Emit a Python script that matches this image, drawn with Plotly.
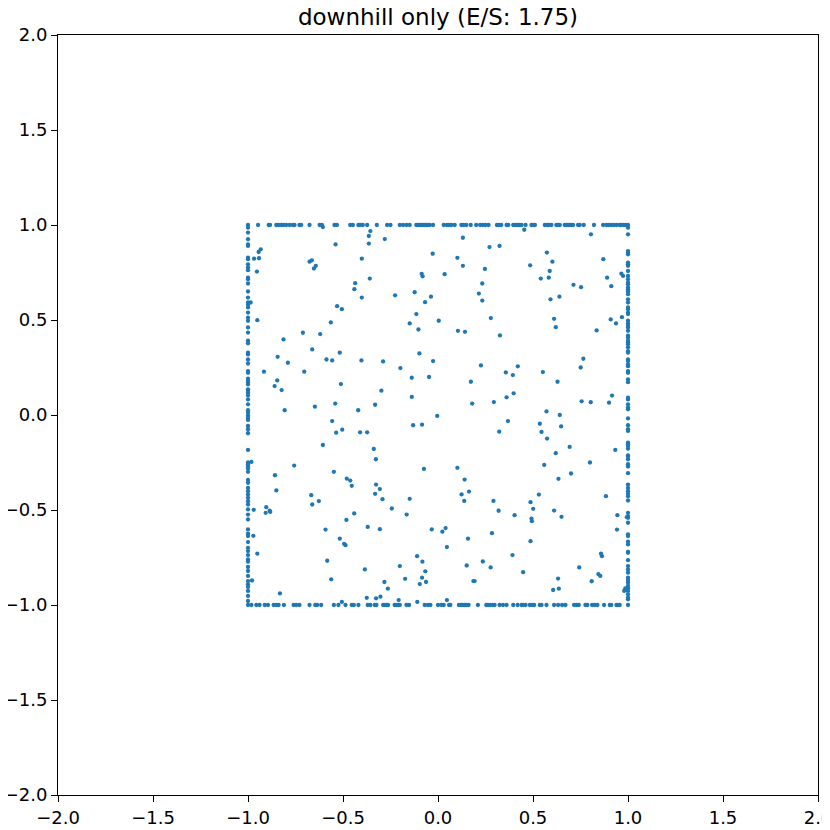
import plotly.graph_objects as go

# Points lying on the top edge (y = 1)
top_x = [-1.0, -0.947, -0.891, -0.884, -0.851, -0.839, -0.825, -0.813, -0.799, -0.781, -0.764, -0.755,
         -0.729, -0.720, -0.676, -0.623, -0.611, -0.545, -0.532, -0.462, -0.448, -0.419, -0.410, -0.396,
         -0.373, -0.322, -0.268, -0.250, -0.201, -0.184, -0.166, -0.149, -0.114, -0.105, -0.096, -0.088,
         -0.079, -0.070, -0.061, -0.053, -0.044, -0.026, 0.030, 0.047, 0.058, 0.070, 0.088, 0.123, 0.135,
         0.149, 0.172, 0.201, 0.222, 0.236, 0.250, 0.266, 0.310, 0.320, 0.333, 0.361, 0.370, 0.396, 0.405,
         0.414, 0.422, 0.431, 0.440, 0.461, 0.492, 0.501, 0.510, 0.562, 0.574, 0.583, 0.597, 0.623, 0.632,
         0.641, 0.667, 0.676, 0.685, 0.694, 0.702, 0.711, 0.737, 0.746, 0.767, 0.821, 0.869, 0.886, 0.898,
         0.912, 0.925, 0.939, 0.956, 0.965, 0.977, 0.986, 1.0]

# Points lying on the bottom edge (y = -1)
bottom_x = [-1.0, -0.982, -0.956, -0.939, -0.912, -0.895, -0.865, -0.851, -0.839, -0.811, -0.760, -0.746,
            -0.729, -0.676, -0.646, -0.636, -0.615, -0.548, -0.524, -0.487, -0.454, -0.443, -0.419, -0.370,
            -0.356, -0.333, -0.324, -0.289, -0.280, -0.271, -0.263, -0.228, -0.219, -0.210, -0.201, -0.166,
            -0.152, -0.070, -0.053, -0.040, 0.0, 0.018, 0.030, 0.058, 0.065, 0.110, 0.123, 0.131, 0.140,
            0.149, 0.161, 0.210, 0.254, 0.263, 0.275, 0.289, 0.298, 0.324, 0.342, 0.361, 0.396, 0.419,
            0.440, 0.448, 0.461, 0.483, 0.496, 0.506, 0.536, 0.545, 0.571, 0.611, 0.632, 0.653, 0.671,
            0.716, 0.729, 0.741, 0.776, 0.786, 0.811, 0.825, 0.839, 0.874, 0.904, 0.912, 0.939, 0.947,
            0.956, 1.0]

# Points lying on the left edge (x = -1)
left_y = [0.986, 0.960, 0.925, 0.898, 0.890, 0.828, 0.820, 0.793, 0.776, 0.762, 0.723, 0.715, 0.692,
          0.650, 0.618, 0.592, 0.580, 0.566, 0.539, 0.513, 0.496, 0.461, 0.434, 0.391, 0.377, 0.328,
          0.319, 0.292, 0.271, 0.231, 0.222, 0.191, 0.179, 0.170, 0.161, 0.135, 0.126, 0.117, 0.103,
          0.082, 0.056, 0.025, 0.012, -0.002, -0.014, -0.026, -0.058, -0.075, -0.096, -0.184, -0.250,
          -0.259, -0.271, -0.282, -0.299, -0.342, -0.357, -0.384, -0.401, -0.419, -0.436, -0.454, -0.471,
          -0.497, -0.524, -0.550, -0.602, -0.625, -0.637, -0.669, -0.699, -0.716, -0.737, -0.760, -0.772,
          -0.800, -0.821, -0.847, -0.874, -0.891, -0.905, -0.926, -0.952, -0.979]

# Points lying on the right edge (x = 1)
right_y = [0.986, 0.951, 0.863, 0.855, 0.846, 0.802, 0.793, 0.785, 0.758, 0.732, 0.715, 0.697, 0.688,
           0.671, 0.662, 0.650, 0.636, 0.609, 0.592, 0.566, 0.557, 0.539, 0.531, 0.496, 0.482, 0.469,
           0.461, 0.443, 0.417, 0.408, 0.391, 0.382, 0.373, 0.356, 0.336, 0.328, 0.292, 0.284, 0.266,
           0.257, 0.231, 0.222, 0.187, 0.173, 0.091, 0.082, 0.056, 0.039, 0.030, -0.018, -0.054, -0.075,
           -0.084, -0.145, -0.154, -0.163, -0.177, -0.212, -0.219, -0.233, -0.259, -0.271, -0.306, -0.366,
           -0.384, -0.401, -0.415, -0.427, -0.450, -0.515, -0.532, -0.541, -0.567, -0.629, -0.637, -0.667,
           -0.681, -0.720, -0.725, -0.764, -0.795, -0.813, -0.830, -0.856, -0.869, -0.883, -0.900, -0.912,
           -0.926, -0.944, -0.961, -0.970]

# Interior points
inner_x = [
    -0.606, -0.356, -0.364, -0.364, -0.539, -0.933, -0.944, -0.968, -0.942, -0.401, -0.664, -0.676, -0.643,
    -0.653, -0.953, -0.359, -0.436, -0.440, -0.401, -0.531, -0.506, -0.951, -0.564, -0.711, -0.620, -0.813,
    -0.986,
    -0.280, 0.131, 0.271, 0.324, -0.028, 0.102, 0.131, 0.247, -0.086, -0.081, 0.035, 0.233, -0.226, -0.123,
    -0.037, 0.215, 0.233, -0.068, -0.114, 0.278, -0.149, 0.004, -0.103, 0.105, 0.142, 0.326,
    0.454, 0.805, 0.573, 0.870, 0.485, 0.602, 0.588, 0.965, 0.974, 0.541, 0.583, 0.890, 0.713, 0.753, 0.912,
    0.639, 0.592, 0.968, 0.611, 0.909, 0.937, 0.620, 0.835,
    -0.662, -0.517, -0.844, -0.790, -0.587, -0.557, -0.403, -0.916, -0.704, -0.846, -0.860, -0.823, -0.511,
    -0.541, -0.331, -0.648, -0.807, -0.420, -0.557, -0.504, -0.536, -0.410, -0.373, -0.606, -0.338, -0.982,
    -0.327, -0.757, -0.858, -0.548, -0.480, -0.462,
    -0.098, -0.289, -0.026, -0.198, -0.138, -0.047, 0.226, 0.357, 0.173, -0.298, -0.138, 0.180, 0.294, 0.361,
    -0.004, -0.131, -0.084, 0.368, 0.322, -0.074, 0.102, 0.140,
    0.765, 0.420, 0.751, 0.394, 0.552, 0.629, 0.398, 0.916, 0.756, 0.804, 0.900, 0.571, 0.641, 0.536, 0.648,
    0.545, 0.574, 0.693, 0.933, 0.620, 0.800, 0.559, 0.700, 0.634,
    -0.454, -0.326, -0.851, -0.667, -0.331, -0.662, -0.627, -0.970, -0.904, -0.907, -0.886, -0.883, -0.441,
    -0.482, -0.370, -0.592, -0.972, -0.517, -0.494, -0.487, -0.951, -0.583, -0.385, -0.562, -0.979, -0.832,
    -0.375, -0.326, -0.506,
    -0.306, -0.292, -0.243, -0.149, -0.165, -0.306, -0.033, 0.023, 0.040, 0.047, 0.124, 0.138, 0.163, 0.292,
    0.319, 0.284, 0.158, -0.110, -0.082, -0.201, -0.067, -0.084, -0.173, -0.096, -0.063, 0.236, 0.151, 0.277,
    0.186, 0.193, -0.282, -0.264, -0.303, -0.207, -0.109, 0.047,
    0.531, 0.884, 0.487, 0.501, 0.611, 0.403, 0.650, 0.492, 0.494, 0.944, 0.994, 0.942, 0.487, 0.858, 0.863,
    0.392, 0.743, 0.448, 0.844, 0.854, 0.632, 0.809, 0.606, 0.636, 0.986, 0.980,
]
inner_y = [
    0.989, 0.968, 0.942, 0.902, 0.898, 0.872, 0.858, 0.823, 0.825, 0.823, 0.814, 0.807, 0.785,
    0.771, 0.755, 0.718, 0.694, 0.662, 0.618, 0.573, 0.557, 0.499, 0.487, 0.433, 0.426, 0.398,
    0.592,
    0.926, 0.933, 0.884, 0.890, 0.849, 0.827, 0.785, 0.769, 0.743, 0.730, 0.741, 0.692, 0.630, 0.646,
    0.623, 0.639, 0.602, 0.594, 0.531, 0.510, 0.482, 0.496, 0.450, 0.443, 0.438, 0.419,
    0.975, 0.951, 0.855, 0.820, 0.788, 0.807, 0.758, 0.744, 0.732, 0.718, 0.723, 0.723, 0.685, 0.673, 0.678,
    0.623, 0.609, 0.515, 0.506, 0.503, 0.482, 0.462, 0.445,
    0.345, 0.328, 0.306, 0.275, 0.292, 0.287, 0.287, 0.228, 0.228, 0.182, 0.152, 0.131, 0.163,
    0.060, 0.054, 0.044, 0.025, 0.025, -0.032, -0.077, -0.093, -0.091, -0.091, -0.158, -0.179, -0.247,
    -0.233, -0.266, -0.317, -0.299, -0.335, -0.345,
    0.324, 0.282, 0.284, 0.247, 0.196, 0.200, 0.261, 0.224, 0.175, 0.128, 0.095, 0.060, 0.068, 0.093,
    -0.005, -0.054, -0.051, -0.032, -0.088, -0.284, -0.278, -0.340,
    0.296, 0.256, 0.250, 0.210, 0.226, 0.175, 0.114, 0.102, 0.072, 0.067, 0.065, 0.019, 0.000, -0.046, -0.060,
    -0.089, -0.124, -0.168, -0.184, -0.201, -0.250, -0.263, -0.308, -0.336,
    -0.373, -0.366, -0.397, -0.422, -0.415, -0.471, -0.453, -0.499, -0.485, -0.515, -0.503, -0.510, -0.518,
    -0.552, -0.589, -0.603, -0.636, -0.651, -0.678, -0.685, -0.730, -0.767, -0.813, -0.865, -0.871, -0.939,
    -0.962, -0.965, -0.984,
    -0.390, -0.443, -0.492, -0.441, -0.524, -0.601, -0.602, -0.614, -0.595, -0.695, -0.418, -0.452, -0.403, -0.452,
    -0.504, -0.622, -0.651, -0.743, -0.772, -0.795, -0.823, -0.856, -0.862, -0.890, -0.879, -0.771, -0.792, -0.802,
    -0.874, -0.874, -0.879, -0.914, -0.956, -0.974, -0.984, -0.974,
    -0.419, -0.427, -0.459, -0.494, -0.503, -0.527, -0.536, -0.545, -0.559, -0.527, -0.538, -0.603, -0.664, -0.730, -0.743,
    -0.737, -0.802, -0.827, -0.837, -0.847, -0.861, -0.875, -0.921, -0.914, -0.912, -0.926,
]

title_text = "downhill only (E/S: 1.75)"
axis_range = [-2, 2]
tick_vals = [-2.0, -1.5, -1.0, -0.5, 0.0, 0.5, 1.0, 1.5, 2.0]

xs = list(top_x) + list(bottom_x) + [-1.0] * len(left_y) + [1.0] * len(right_y) + list(inner_x)
ys = [1.0] * len(top_x) + [-1.0] * len(bottom_x) + list(left_y) + list(right_y) + list(inner_y)

fig = go.Figure(go.Scatter(
    x=xs, y=ys, mode="markers",
    marker=dict(size=4.3, color="#1f77b4", line=dict(width=0)),
    showlegend=False, cliponaxis=False,
))

axis_style = dict(
    range=axis_range, tickvals=tick_vals, tickformat=".1f",
    showgrid=False, zeroline=False, automargin=False, ticklabeloverflow="allow",
    showline=True, mirror=True, linecolor="black", linewidth=1,
    ticks="outside", ticklen=6, tickwidth=1, tickcolor="black",
    tickfont=dict(family="DejaVu Sans", size=18, color="black"),
)

# The page body adds an 8 px offset, so the figure is sized 822 px to fit the 830 px window.
W = 822
fig.update_layout(
    width=W, height=W,
    margin=dict(l=50, r=12, t=27, b=35, autoexpand=False),
    paper_bgcolor="white", plot_bgcolor="white",
    title=dict(text=title_text, x=0.5, xref="paper", xanchor="center",
               y=1 - 9 / W, yref="container", yanchor="middle", automargin=False,
               font=dict(family="DejaVu Sans", size=23, color="black")),
    xaxis=axis_style,
    yaxis=axis_style,
)

fig.write_html("out.html")
